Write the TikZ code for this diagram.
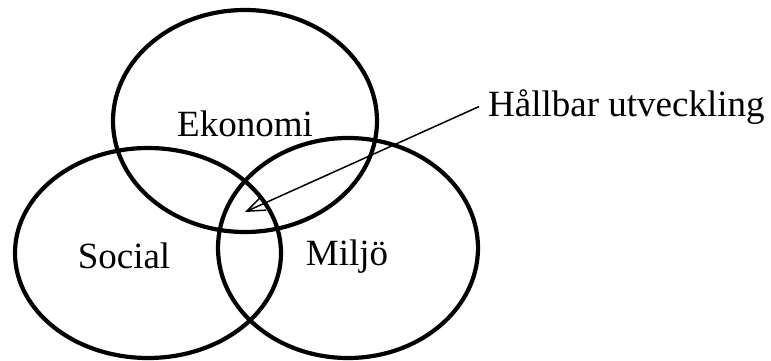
\documentclass[tikz,border=0pt]{standalone}
\usepackage{fontspec}
\setmainfont{Liberation Serif}
\usetikzlibrary{arrows.meta}

\begin{document}
\begin{tikzpicture}[x=1pt,y=-1pt]
	\tikzset{>={Straight Barb[length=18pt,width=14pt]}}
	\tikzset{lbl/.style={inner sep=0pt,anchor=base,font=\fontsize{37}{44}\selectfont}}
	\useasboundingbox (0,0) rectangle (771,361);
	\coordinate (E) at (245,121);
	\coordinate (S) at (148,253);
	\coordinate (M) at (348,248);
	\draw[line width=4.2pt] (E) ellipse [x radius=132, y radius=111];
	\draw[line width=4.2pt] (S) ellipse [x radius=133, y radius=105];
	\draw[line width=4.2pt] (M) ellipse [x radius=130, y radius=110];
	\node[lbl] (ekonomi) at (245,136) {Ekonomi};
	\node[lbl] (social) at (124,268) {Social};
	\node[lbl] (miljo) at (347,265) {Miljö};
	\node[lbl,anchor=base west,inner xsep=9pt] (hb) at (479,116) {Hållbar utveckling};
	\coordinate (tip) at (245,212);
	\draw[->,line width=1.5pt] (hb.west) -- (tip);
\end{tikzpicture}
\end{document}
